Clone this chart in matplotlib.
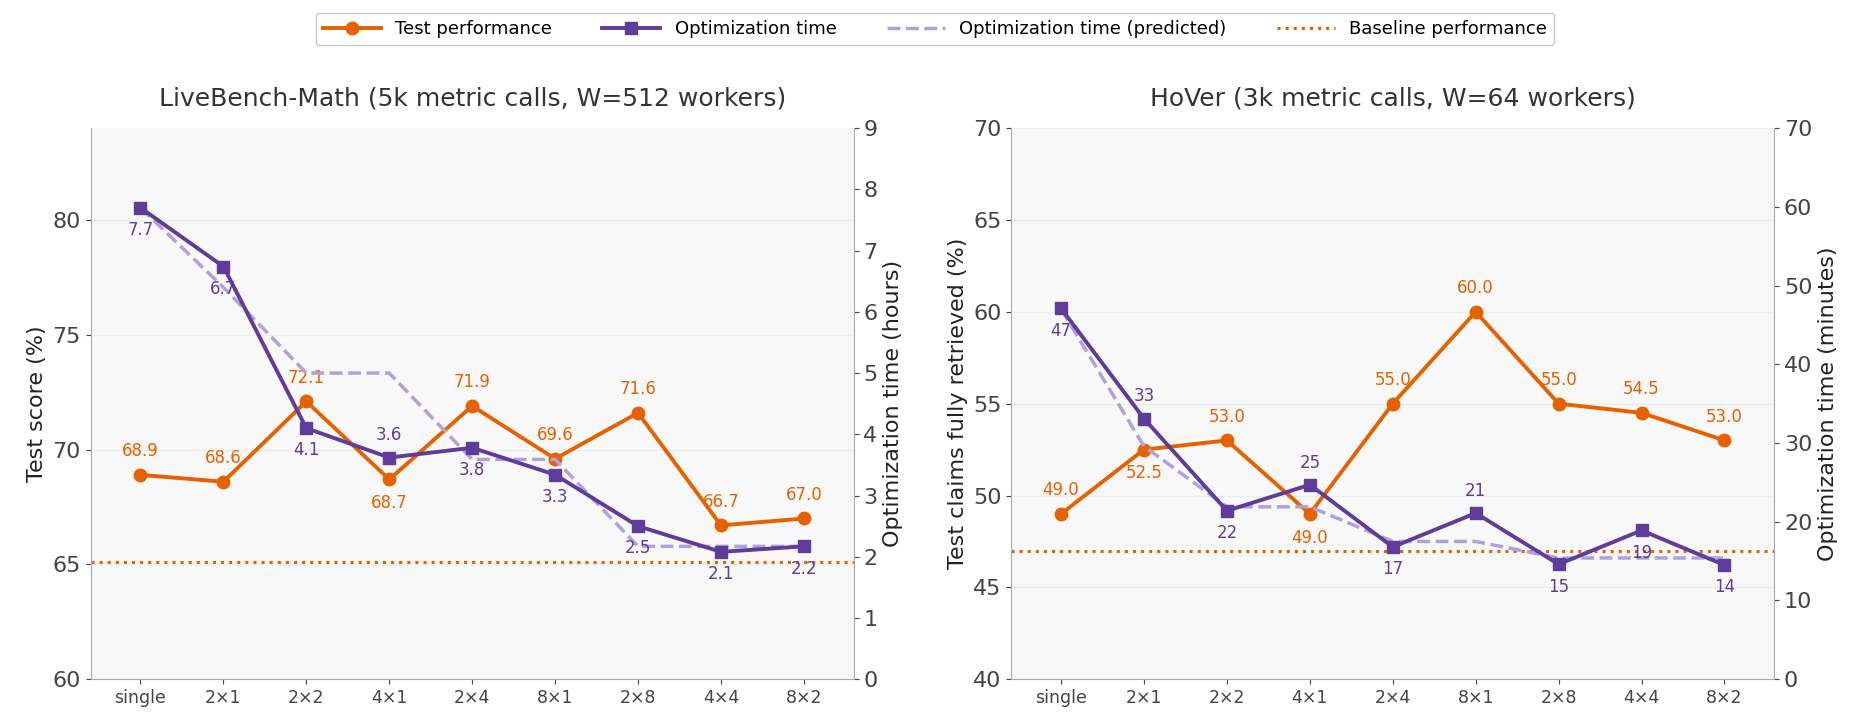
import matplotlib
matplotlib.use("Agg")
import matplotlib.pyplot as plt
from matplotlib.lines import Line2D

cats = ["single", "2×1", "2×2", "4×1", "2×4", "8×1", "2×8", "4×4", "8×2"]

lb_test = [68.9, 68.6, 72.1, 68.7, 71.9, 69.6, 71.6, 66.7, 67.0]
lb_time = [7.70, 6.74, 4.10, 3.62, 3.78, 3.34, 2.50, 2.08, 2.17]
lb_time_lbl = ["7.7", "6.7", "4.1", "3.6", "3.8", "3.3", "2.5", "2.1", "2.2"]
lb_pred = [7.7, 6.4, 5.0, 5.0, 3.59, 3.59, 2.17, 2.17, 2.17]
lb_base = 65.12

hv_test = [49.0, 52.5, 53.0, 49.0, 55.0, 60.0, 55.0, 54.5, 53.0]
hv_time = [47.1, 33.1, 21.4, 24.7, 16.8, 21.1, 14.6, 18.9, 14.5]
hv_time_lbl = ["47", "33", "22", "25", "17", "21", "15", "19", "14"]
hv_pred = [47.0, 29.6, 21.9, 21.9, 17.5, 17.5, 15.4, 15.4, 15.4]
hv_base = 46.96

OR = "#e66100"
PU = "#5e3c99"
LP = "#b2a0dc"
GR = "#444444"

fig = plt.figure(figsize=(18.7, 7.28), dpi=100)

def panel(rect, title, test, time, tlbl, pred, base, ylim, y2lim, yticks, y2ticks,
          ylabel, y2label, test_off, time_off, test_fmt):
    ax = fig.add_axes(rect)
    ax.set_facecolor("#f8f8f8")
    x = list(range(len(cats)))
    ax.axhline(base, color=OR, ls=":", lw=2.2, zorder=1)
    ax.plot(x, test, color=OR, marker="o", ms=9, lw=2.8, zorder=4)
    ax.set_ylim(*ylim)
    ax.set_yticks(yticks)
    ax.set_xlim(-0.6, len(cats) - 0.4)
    ax.set_xticks(x)
    ax.set_xticklabels(cats, fontsize=12.5, color=GR)
    ax.tick_params(axis="y", labelsize=16, colors=GR)
    ax.tick_params(axis="x", colors=GR)
    ax.grid(axis="y", color="#ececec", lw=1)
    ax.set_axisbelow(True)
    ax.set_ylabel(ylabel, fontsize=16, color="#222222")
    ax.set_title(title, fontsize=18, color="#333333", pad=16)
    for s in ["top", "right"]:
        ax.spines[s].set_visible(False)
    for s in ["left", "bottom"]:
        ax.spines[s].set_color("#aaaaaa")
    for xi, v, o in zip(x, test, test_off):
        ax.annotate(test_fmt(v), (xi, v), xytext=(0, o), textcoords="offset points",
                    ha="center", va="center", fontsize=12, color=OR, zorder=6)
    ax2 = ax.twinx()
    ax2.plot(x, pred, color=LP, ls="--", lw=2.5, zorder=2)
    ax2.plot(x, time, color=PU, marker="s", ms=9, lw=2.8, zorder=3)
    ax2.set_ylim(*y2lim)
    ax2.set_yticks(y2ticks)
    ax2.tick_params(axis="y", labelsize=16, colors=GR)
    ax2.set_ylabel(y2label, fontsize=16, color="#222222")
    for s in ["top", "left", "bottom"]:
        ax2.spines[s].set_visible(False)
    ax2.spines["right"].set_color("#aaaaaa")
    for xi, v, t, o in zip(x, time, tlbl, time_off):
        ax2.annotate(t, (xi, v), xytext=(0, o), textcoords="offset points",
                     ha="center", va="center", fontsize=12, color=PU, zorder=6)
    return ax

panel([0.0485, 0.067, 0.408, 0.757], "LiveBench-Math (5k metric calls, W=512 workers)",
      lb_test, lb_time, lb_time_lbl, lb_pred, lb_base, (60, 84), (0, 9),
      [60, 65, 70, 75, 80], list(range(10)),
      "Test score (%)", "Optimization time (hours)",
      [17, 17, 17, -17, 17, 17, 17, 17, 17],
      [-16, -16, -16, 16, -16, -16, -16, -16, -16],
      lambda v: f"{v:.1f}")

panel([0.5408, 0.067, 0.408, 0.757], "HoVer (3k metric calls, W=64 workers)",
      hv_test, hv_time, hv_time_lbl, hv_pred, hv_base, (40, 70), (0, 70),
      [40, 45, 50, 55, 60, 65, 70], list(range(0, 80, 10)),
      "Test claims fully retrieved (%)", "Optimization time (minutes)",
      [17, -17, 17, -17, 17, 17, 17, 17, 17],
      [-16, 16, -16, 16, -16, 16, -16, -16, -16],
      lambda v: f"{v:.1f}")

handles = [
    Line2D([], [], color=OR, marker="o", ms=9, lw=2.8),
    Line2D([], [], color=PU, marker="s", ms=9, lw=2.8),
    Line2D([], [], color=LP, ls="--", lw=2.5),
    Line2D([], [], color=OR, ls=":", lw=2.2),
]
labels = ["Test performance", "Optimization time", "Optimization time (predicted)",
          "Baseline performance"]
fig.legend(handles, labels, loc="upper center", bbox_to_anchor=(0.5, 0.995), ncol=4,
           fontsize=13, frameon=True, edgecolor="#bbbbbb", handlelength=3.2,
           columnspacing=2.8)

fig.savefig("out.png", dpi=100, facecolor="white")
